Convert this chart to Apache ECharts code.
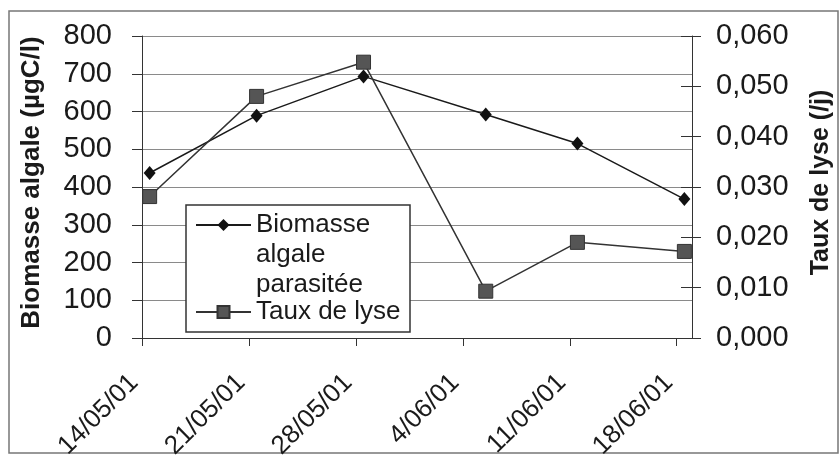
<!DOCTYPE html>
<html>
<head>
<meta charset="utf-8">
<script src="https://cdn.jsdelivr.net/npm/echarts@6/dist/echarts.min.js"></script>
<style>
  html, body { margin: 0; padding: 0; background: #fff; }
  #chart { width: 840px; height: 457px; }
</style>
</head>
<body>
<div id="chart"></div>
<script>
// dates de prélèvement (jj/mm/aa)
var dates = ['14/05/01', '21/05/01', '28/05/01', '05/06/01', '11/06/01', '18/06/01'];
// biomasse algale parasitée (µgC/l)
var biomasse = [437, 589, 693, 592, 515, 368];
// taux de lyse (/j)
var lyse = [0.0281, 0.0480, 0.0548, 0.0093, 0.0190, 0.0172];
// axes : min, max, pas
var leftTicks = [0, 800, 100];
var rightTicks = [0, 0.06, 0.01];
var dayTicks = [0, 36, 7];

var DAY = 86400000;
function parseDate(s) {
  var p = s.split('/');
  return Date.UTC(2000 + (+p[2]), +p[1] - 1, +p[0]);
}
var start = parseDate(dates[0]);
// points placés au milieu du jour, comme dans Excel
var xs = dates.map(function (d) { return (parseDate(d) - start) / DAY + 0.5; });
function pad(n) { return n < 10 ? '0' + n : '' + n; }

var font = 'Liberation Sans, Arial, sans-serif';
var ink = '#1a1a1a';

var chart = echarts.init(document.getElementById('chart'), null, { renderer: 'canvas' });
chart.setOption({
  backgroundColor: '#fff',
  animation: false,
  grid: { left: 142, right: 148, top: 36, bottom: 119, outerBoundsMode: 'none' },
  legend: {
    orient: 'vertical',
    left: 195,
    top: 150,
    padding: 0,
    itemWidth: 55,
    itemHeight: 15,
    itemGap: -3,
    z: 5,
    textStyle: { fontFamily: font, fontSize: 26, color: ink, lineHeight: 30 },
    // deux lignes vides devant : la 1re ligne du texte reste en face du symbole
    formatter: function (name) {
      return name.indexOf('\n') >= 0 ? '\n\n' + name : name;
    },
    data: ['Biomasse\nalgale\nparasitée', 'Taux de lyse']
  },
  xAxis: {
    type: 'value',
    min: dayTicks[0],
    max: dayTicks[1],
    interval: dayTicks[2],
    splitLine: { show: false },
    axisLine: { lineStyle: { color: '#333', width: 1 } },
    axisTick: { length: 8, lineStyle: { color: '#333' } },
    axisLabel: {
      rotate: 45,
      margin: 33,
      padding: [0, 11, 0, 0],
      fontFamily: font,
      fontSize: 26,
      color: ink,
      showMaxLabel: false,
      formatter: function (v) {
        if (v % 7 !== 0) return '';
        var d = new Date(start + v * DAY);
        return d.getUTCDate() + '/' + pad(d.getUTCMonth() + 1) + '/' + pad(d.getUTCFullYear() % 100);
      }
    }
  },
  yAxis: [
    {
      type: 'value',
      position: 'left',
      min: leftTicks[0],
      max: leftTicks[1],
      interval: leftTicks[2],
      name: 'Biomasse algale (µgC/l)',
      nameLocation: 'middle',
      nameGap: 97,
      nameTextStyle: { fontFamily: font, fontSize: 26, fontWeight: 'bold', color: ink, padding: [0, 0, 0, 9] },
      axisLine: { show: true, lineStyle: { color: '#333', width: 1 } },
      axisTick: { show: true, length: 10, lineStyle: { color: '#333' } },
      splitLine: { lineStyle: { color: '#8a8a8a', width: 1 } },
      axisLabel: { margin: 30, fontFamily: font, fontSize: 29, color: ink }
    },
    {
      type: 'value',
      position: 'right',
      min: rightTicks[0],
      max: rightTicks[1],
      interval: rightTicks[2],
      name: 'Taux de lyse (/j)',
      nameLocation: 'middle',
      nameGap: 117,
      nameTextStyle: { fontFamily: font, fontSize: 25, fontWeight: 'bold', color: ink, padding: [0, 0, 0, 9] },
      axisLine: { show: true, lineStyle: { color: '#333', width: 1 } },
      axisTick: { show: true, length: 9, lineStyle: { color: '#333' } },
      splitLine: { show: false },
      axisLabel: {
        margin: 24,
        fontFamily: font,
        fontSize: 29,
        color: ink,
        formatter: function (v) { return v.toFixed(3).replace('.', ','); }
      }
    },
    {
      // graduations vers l'intérieur sur l'axe de droite (graduations croisées)
      type: 'value',
      position: 'right',
      min: rightTicks[0],
      max: rightTicks[1],
      interval: rightTicks[2],
      axisLine: { show: false },
      axisTick: { show: true, inside: true, length: 11, lineStyle: { color: '#333' } },
      axisLabel: { show: false },
      splitLine: { show: false }
    }
  ],
  graphic: [
    {
      type: 'rect',
      silent: true,
      z: 0,
      shape: { x: 9, y: 11, width: 829, height: 442 },
      style: { fill: 'none', stroke: '#777', lineWidth: 1.5 }
    },
    {
      type: 'rect',
      silent: true,
      z: 4,
      shape: { x: 186, y: 205, width: 224, height: 127 },
      style: { fill: '#fff', stroke: '#333', lineWidth: 1.5 }
    }
  ],
  series: [
    {
      name: 'Biomasse\nalgale\nparasitée',
      type: 'line',
      yAxisIndex: 0,
      data: xs.map(function (x, i) { return [x, biomasse[i]]; }),
      symbol: 'diamond',
      symbolSize: [12, 14],
      lineStyle: { color: '#1a1a1a', width: 1.5 },
      itemStyle: { color: '#111' },
      z: 3
    },
    {
      name: 'Taux de lyse',
      type: 'line',
      yAxisIndex: 1,
      data: xs.map(function (x, i) { return [x, lyse[i]]; }),
      symbol: 'rect',
      symbolSize: 14,
      lineStyle: { color: '#333', width: 1.5 },
      itemStyle: { color: '#555', borderColor: '#333', borderWidth: 1 },
      z: 3
    }
  ]
});
</script>
</body>
</html>
